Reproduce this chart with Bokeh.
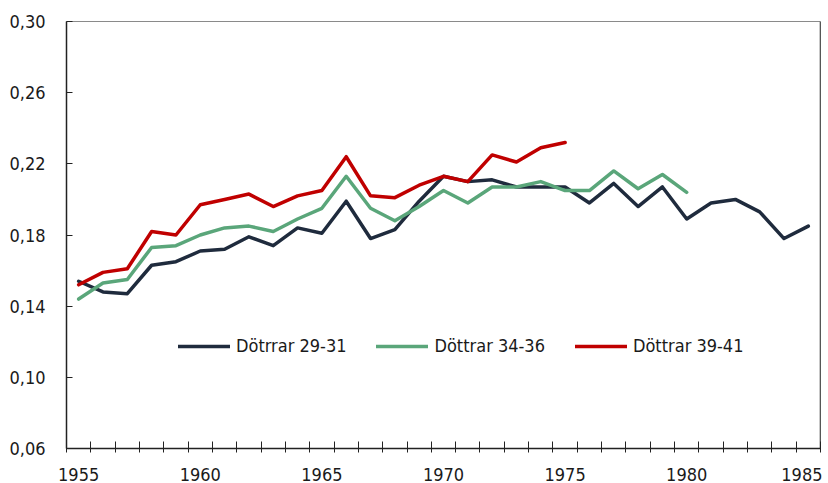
from bokeh.plotting import figure
from bokeh.models import (FixedTicker, CustomJSTickFormatter, Legend, LegendItem,
                          Range1d, Span)
from bokeh.embed import file_html
from bokeh.resources import INLINE

FONT = "'DejaVu Sans Condensed', Roboto, sans-serif"

years_a = list(range(1955, 1986))
vals_a = [0.154, 0.148, 0.147, 0.163, 0.165, 0.171, 0.172, 0.179, 0.174, 0.184,
          0.181, 0.199, 0.178, 0.183, 0.199, 0.213, 0.210, 0.211, 0.207, 0.207,
          0.207, 0.198, 0.209, 0.196, 0.207, 0.189, 0.198, 0.200, 0.193, 0.178,
          0.185]

years_b = list(range(1955, 1981))
vals_b = [0.144, 0.153, 0.155, 0.173, 0.174, 0.180, 0.184, 0.185, 0.182, 0.189,
          0.195, 0.213, 0.195, 0.188, 0.196, 0.205, 0.198, 0.207, 0.207, 0.210,
          0.205, 0.205, 0.216, 0.206, 0.214, 0.204]

years_c = list(range(1955, 1976))
vals_c = [0.152, 0.159, 0.161, 0.182, 0.180, 0.197, 0.200, 0.203, 0.196, 0.202,
          0.205, 0.224, 0.202, 0.201, 0.208, 0.213, 0.210, 0.225, 0.221, 0.229,
          0.232]

labels = ["Dötrrar 29-31", "Döttrar 34-36", "Döttrar 39-41"]
colors = ["#1f2b3d", "#5aa67a", "#c00000"]

x_ticks = [1955, 1960, 1965, 1970, 1975, 1980, 1985]
y_ticks = [0.06, 0.10, 0.14, 0.18, 0.22, 0.26, 0.30]

p = figure(frame_width=754, frame_height=427, output_backend="svg", toolbar_location=None,
           x_range=Range1d(1954.5, 1985.5), y_range=Range1d(0.06, 0.30),
           min_border_left=66, min_border_right=2, min_border_top=21,
           min_border_bottom=34)
p.background_fill_color = "white"
p.border_fill_color = "white"
p.outline_line_color = "#8a8a8a"
p.outline_line_width = 1
p.xgrid.visible = False
p.ygrid.visible = False

r1 = p.line(years_a, vals_a, line_color=colors[0], line_width=3.5, line_join="round", line_cap="round")
r2 = p.line(years_b, vals_b, line_color=colors[1], line_width=3.5, line_join="round", line_cap="round")
r3 = p.line(years_c, vals_c, line_color=colors[2], line_width=3.5, line_join="round", line_cap="round")

p.add_layout(Span(location=1985.5, dimension="height", line_color="#222222", line_width=1.5))

xa = p.xaxis[0]
xa.ticker = FixedTicker(ticks=x_ticks, minor_ticks=[1954.5 + i for i in range(32)])
xa.major_tick_line_color = None
xa.major_tick_in = 0
xa.major_tick_out = 0
xa.minor_tick_line_color = "#222222"
xa.minor_tick_in = 7
xa.minor_tick_out = 4
xa.axis_line_color = "#222222"
xa.axis_line_width = 1.5
xa.major_label_standoff = 15
xa.major_label_text_font = FONT
xa.major_label_text_font_size = "18px"
xa.major_label_text_color = "#1a1a1a"

ya = p.yaxis[0]
ya.ticker = FixedTicker(ticks=y_ticks)
ya.formatter = CustomJSTickFormatter(code="return tick.toFixed(2).replace('.', ',');")
ya.major_tick_in = 6
ya.major_tick_out = 0
ya.major_tick_line_color = "#222222"
ya.minor_tick_line_color = None
ya.axis_line_color = "#222222"
ya.axis_line_width = 1.5
ya.major_label_standoff = 21
ya.major_label_text_font = FONT
ya.major_label_text_font_size = "18px"
ya.major_label_text_color = "#1a1a1a"

legend = Legend(items=[LegendItem(label=labels[0], renderers=[r1]),
                       LegendItem(label=labels[1], renderers=[r2]),
                       LegendItem(label=labels[2], renderers=[r3])],
                orientation="horizontal", location=(112, 92))
legend.label_text_font = FONT
legend.label_text_font_size = "18px"
legend.label_text_color = "#1a1a1a"
legend.glyph_width = 52
legend.glyph_height = 20
legend.label_standoff = 6
legend.spacing = 30
legend.padding = 0
legend.margin = 0
legend.border_line_color = None
legend.background_fill_alpha = 0
p.add_layout(legend)

open("out.html", "w").write(file_html(p, INLINE))
